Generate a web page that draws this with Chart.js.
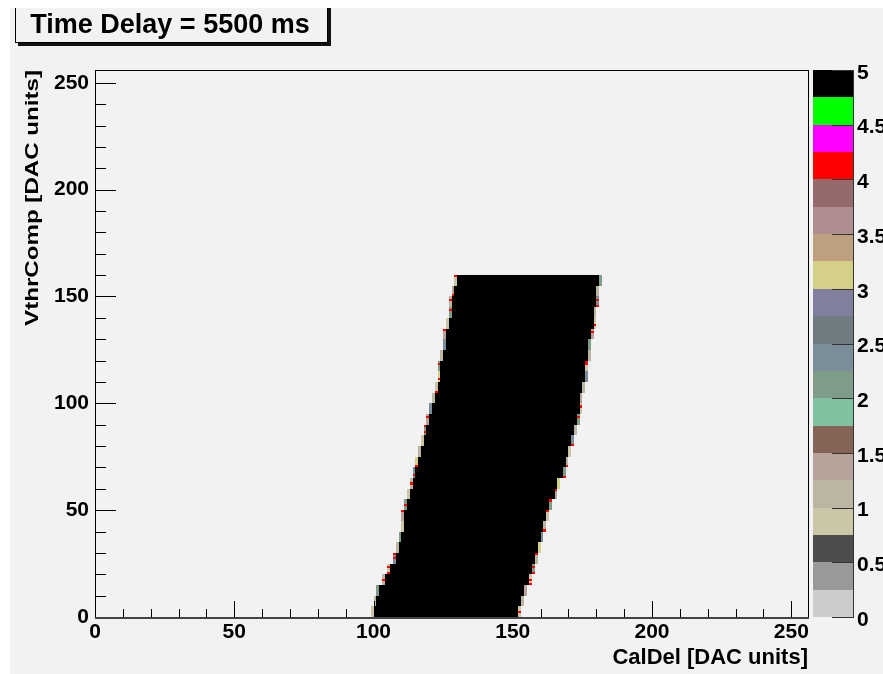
<!DOCTYPE html>
<html>
<head>
<meta charset="utf-8">
<script src="https://cdn.jsdelivr.net/npm/chart.js@4/dist/chart.umd.min.js"></script>
<style>
  html, body { margin: 0; padding: 0; background: #fff; }
  canvas { display: block; }
</style>
</head>
<body>
<canvas id="scan" width="883" height="674"></canvas>
<script>
// VthrComp rows, lower edge of each 5-unit row
const vthrRows = [0, 5, 10, 15, 20, 25, 30, 35, 40, 45, 50, 55, 60, 65, 70, 75,
                  80, 85, 90, 95, 100, 105, 110, 115, 120, 125, 130, 135, 140, 145, 150, 155];
const rowHeight = 5;

// CalDel range with full efficiency in each row [first bin, last bin + 1)
const leftEdge  = [100, 101, 102, 104, 106, 108, 109, 110, 111, 111, 112, 113, 114, 115, 116, 117,
                   118, 119, 120, 121, 122, 123, 124, 124, 125, 126, 126, 127, 128, 128, 129, 130];
const rightEdge = [152, 153, 154, 156, 157, 158, 159, 160, 161, 162, 163, 165, 166, 168, 169, 170,
                   171, 172, 173, 174, 174, 175, 176, 176, 177, 177, 178, 179, 179, 180, 180, 181];

// partial hits just outside the plateau, one cell per row and side
const leftFringe  = [0.9, 1.1, 2.1, 1.1, 0.9, 2.4, 1.1, 2.1, 0.9, 1.3, 2.1, 0.9, 1.1, 2.4, 3.1, 1.1,
                     0.9, 2.1, 1.3, 2.4, 1.1, 0.9, 3.1, 2.1, 1.1, 2.4, 1.3, 0.9, 2.1, 1.1, 1.3, 0.9];
const rightFringe = [0.9, 1.1, 1.3, 0.9, 2.1, 1.1, 3.1, 2.4, 1.1, 0.9, 2.1, 1.3, 3.1, 2.1, 1.1, 0.9,
                     2.4, 1.1, 2.1, 0.9, 1.3, 1.1, 2.4, 0.9, 1.1, 2.1, 1.3, 0.9, 1.1, 2.4, 1.1, 2.1];

// VthrComp values where the edge cell reads 4 hits
const leftHot  = [17, 20, 23, 27, 29, 49, 52, 62, 66, 70, 86, 89, 93, 105, 111, 118, 134, 143, 148, 150, 159];
const rightHot = [2, 15, 17, 20, 23, 29, 40, 49, 54, 59, 65, 70, 80, 93, 98, 118, 119, 133, 136, 145, 148];

const plateauLevel = 5;
const hotLevel = 4.1;

const xTicks = [0, 50, 100, 150, 200, 250];
const yTicks = [0, 50, 100, 150, 200, 250];
const zTicks = [0, 0.5, 1, 1.5, 2, 2.5, 3, 3.5, 4, 4.5, 5];

// 20 contour colours, 0 -> 5 in steps of 0.25
const paletteColors = [
  '#cccccc', '#999999', '#4d4d4d', '#ccc6a8', '#bab6a2', '#b8a39a', '#866455', '#80c2a0',
  '#7f9c88', '#7a8d98', '#6e7c82', '#807f9e', '#d4d088', '#be9f80', '#ad8d8d', '#966a6a',
  '#ff0000', '#ff00ff', '#00ff00', '#000000'
];

const FONT = '"Liberation Sans", Arial, Helvetica, sans-serif';
const BG = '#f2f2f2';

function levelColor(v) {
  const i = Math.min(paletteColors.length - 1, Math.floor(v / 0.25));
  return paletteColors[i];
}

function fillCell(ctx, xs, ys, x0, x1, y0, y1, color) {
  const px0 = Math.round(xs.getPixelForValue(x0));
  const px1 = Math.round(xs.getPixelForValue(x1));
  const py0 = Math.round(ys.getPixelForValue(y0));
  const py1 = Math.round(ys.getPixelForValue(y1));
  ctx.fillStyle = color;
  ctx.fillRect(px0, py1, px1 - px0, py0 - py1);
}

// pad background, "Time Delay" label box and the stretched y title
const rootPad = {
  id: 'rootPad',
  beforeDraw(chart) {
    const ctx = chart.ctx;
    ctx.save();
    ctx.fillStyle = '#fff';
    ctx.fillRect(0, 0, chart.width, chart.height);
    ctx.fillStyle = BG;
    ctx.fillRect(10, 8, chart.width - 10, chart.height - 8);
    ctx.restore();
  },
  afterDraw(chart) {
    const ctx = chart.ctx;
    const a = chart.chartArea;
    ctx.save();
    ctx.beginPath();
    ctx.rect(10, 8, chart.width - 10, chart.height - 8);
    ctx.clip();
    // shadow
    ctx.fillStyle = '#111';
    ctx.fillRect(18, 7, 313, 39);
    // box
    ctx.fillStyle = BG;
    ctx.fillRect(15, 4, 313, 39);
    ctx.strokeStyle = '#000';
    ctx.lineWidth = 1;
    ctx.strokeRect(15.5, 4.5, 312, 38);
    ctx.fillStyle = '#000';
    ctx.font = 'bold 27px ' + FONT;
    ctx.textAlign = 'center';
    ctx.textBaseline = 'alphabetic';
    ctx.fillText('Time Delay = 5500 ms', 170, 33);

    // y axis title, right-aligned to the frame top
    ctx.translate(33, a.top);
    ctx.rotate(-Math.PI / 2);
    ctx.scale(1.34, 1);
    ctx.font = 'bold 18px ' + FONT;
    ctx.textAlign = 'right';
    ctx.textBaseline = 'middle';
    ctx.fillText('VthrComp [DAC units]', 0, 0);
    ctx.restore();
  }
};

// 2D histogram cells, frame, ticks and colour palette
const heatCells = {
  id: 'heatCells',
  afterDatasetsDraw(chart) {
    const { ctx, chartArea: a, scales: { x, y, z } } = chart;
    ctx.save();

    vthrRows.forEach((v, i) => {
      const top = v + rowHeight;
      fillCell(ctx, x, y, leftEdge[i], rightEdge[i], v, top, levelColor(plateauLevel));
      if (leftFringe[i] != null)
        fillCell(ctx, x, y, leftEdge[i] - 1, leftEdge[i], v, top, levelColor(leftFringe[i]));
      if (rightFringe[i] != null)
        fillCell(ctx, x, y, rightEdge[i], rightEdge[i] + 1, v, top, levelColor(rightFringe[i]));
    });
    leftHot.forEach(v => {
      const i = Math.floor(v / rowHeight);
      fillCell(ctx, x, y, leftEdge[i] - 1, leftEdge[i], v, v + 1, levelColor(hotLevel));
    });
    rightHot.forEach(v => {
      const i = Math.floor(v / rowHeight);
      fillCell(ctx, x, y, rightEdge[i], rightEdge[i] + 1, v, v + 1, levelColor(hotLevel));
    });

    // ticks, pointing into the frame
    ctx.strokeStyle = '#000';
    ctx.lineWidth = 1;
    ctx.beginPath();
    for (let v = 0; v <= 250; v += 10) {
      const major = v % 50 === 0;
      const px = Math.round(x.getPixelForValue(v)) + 0.5;
      ctx.moveTo(px, a.bottom);
      ctx.lineTo(px, a.bottom - (major ? 16 : 8));
      const py = Math.round(y.getPixelForValue(v)) + 0.5;
      ctx.moveTo(a.left, py);
      ctx.lineTo(a.left + (major ? 21 : 11), py);
    }
    ctx.stroke();

    // frame
    ctx.strokeRect(Math.round(a.left) + 0.5, Math.round(a.top) + 0.5,
                   Math.round(a.right - a.left), Math.round(a.bottom - a.top));
    ctx.strokeStyle = '#444';
    ctx.lineWidth = 2;
    ctx.beginPath();
    ctx.moveTo(a.left, a.bottom + 1);
    ctx.lineTo(a.right + 1, a.bottom + 1);
    ctx.stroke();

    // palette
    const pl = a.right + 5, pr = a.right + 45;
    paletteColors.forEach((c, i) => {
      const y0 = Math.round(z.getPixelForValue(i * 0.25));
      const y1 = Math.round(z.getPixelForValue((i + 1) * 0.25));
      ctx.fillStyle = c;
      ctx.fillRect(pl, y1, pr - pl, y0 - y1);
    });
    ctx.strokeStyle = '#333';
    ctx.lineWidth = 1;
    ctx.beginPath();
    ctx.moveTo(pr + 0.5, a.top);
    ctx.lineTo(pr + 0.5, a.bottom + 1);
    zTicks.forEach(t => {
      const py = Math.round(z.getPixelForValue(t)) + 0.5;
      ctx.moveTo(pr - 21, py);
      ctx.lineTo(pr, py);
    });
    ctx.stroke();
    ctx.fillStyle = '#000';
    ctx.font = 'bold 21px ' + FONT;
    ctx.textAlign = 'left';
    ctx.textBaseline = 'middle';
    zTicks.forEach(t => {
      ctx.fillText(String(t), pr + 4, z.getPixelForValue(t) + 3);
    });

    ctx.restore();
  }
};

const tickFont = { family: FONT, size: 21, weight: 'bold' };

new Chart(document.getElementById('scan'), {
  type: 'scatter',
  data: { datasets: [] },
  options: {
    responsive: false,
    animation: false,
    layout: { padding: { left: 10, top: 70, right: 75, bottom: 0 } },
    plugins: { legend: { display: false }, tooltip: { enabled: false } },
    scales: {
      x: {
        type: 'linear', min: 0, max: 256,
        afterBuildTicks: s => { s.ticks = xTicks.map(v => ({ value: v })); },
        afterFit: s => { s.height = 57; },
        grid: { display: false, drawTicks: false },
        border: { display: false },
        ticks: { color: '#000', font: tickFont, padding: 3, autoSkip: false, maxRotation: 0 },
        title: {
          display: true, text: 'CalDel [DAC units]', align: 'end', color: '#000',
          font: { family: FONT, size: 22, weight: 'bold' }, padding: { top: 0, bottom: 3 }
        }
      },
      y: {
        type: 'linear', min: 0, max: 256,
        afterBuildTicks: s => { s.ticks = yTicks.map(v => ({ value: v })); },
        afterFit: s => { s.width = 85; },
        grid: { display: false, drawTicks: false },
        border: { display: false },
        ticks: { color: '#000', font: tickFont, padding: 6, autoSkip: false },
        title: { display: false }
      },
      z: { type: 'linear', display: false, position: 'right', min: 0, max: 5 }
    }
  },
  plugins: [rootPad, heatCells]
});
</script>
</body>
</html>
